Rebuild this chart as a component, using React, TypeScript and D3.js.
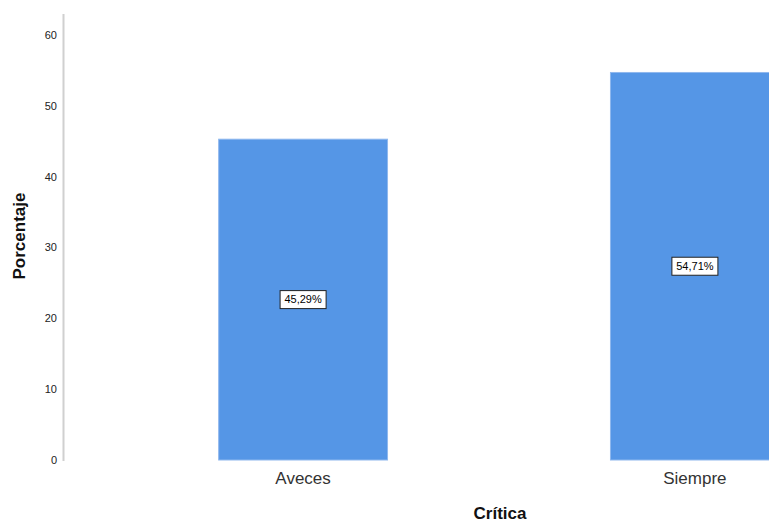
import React from "react";
import * as d3 from "d3";

const categories = ["Aveces", "Siempre"];
const values = [45.29, 54.71];
const valueLabels = ["45,29%", "54,71%"];
const yTicks = [0, 10, 20, 30, 40, 50, 60];

const W = 769;
const H = 522;

export default function App() {
  const y = d3.scaleLinear().domain([0, 60]).range([460, 35]);
  const x = d3.scaleBand().domain(categories).range([107, 891]).paddingInner(0.569).paddingOuter(0.285);
  const bw = x.bandwidth();
  return (
    <svg width={W} height={H} style={{ position: "absolute", left: 0, top: 0, background: "#fff" }}
      fontFamily="Arial, 'Liberation Sans', sans-serif">
      <line x1={63.5} x2={63.5} y1={14} y2={461} stroke="#d0d0d0" strokeWidth={2} />
      {yTicks.map((t) => (
        <text key={t} x={57} y={y(t)} dy="0.35em" textAnchor="end" fontSize={11} fill="#222">{t}</text>
      ))}
      {categories.map((c, i) => {
        const x0 = x(c)!;
        const yt = y(values[i]);
        const cx = x0 + bw / 2;
        const cy = (yt + y(0)) / 2;
        return (
          <g key={c}>
            <rect x={x0} y={yt} width={bw} height={y(0) - yt} fill="#5596e6" stroke="#8fb8ee" strokeWidth={1} />
            <rect x={cx - 23} y={cy - 9} width={46} height={18} fill="#fff" stroke="#222" strokeWidth={1} />
            <text x={cx} y={cy} dy="0.35em" textAnchor="middle" fontSize={11} fill="#000">{valueLabels[i]}</text>
            <text x={cx} y={484} textAnchor="middle" fontSize={17} fill="#333">{c}</text>
          </g>
        );
      })}
      <text x={500} y={519} textAnchor="middle" fontSize={17} fontWeight="bold" fill="#111">Crítica</text>
      <text transform={`translate(25,236) rotate(-90)`} textAnchor="middle" fontSize={17} fontWeight="bold" fill="#111">Porcentaje</text>
    </svg>
  );
}
